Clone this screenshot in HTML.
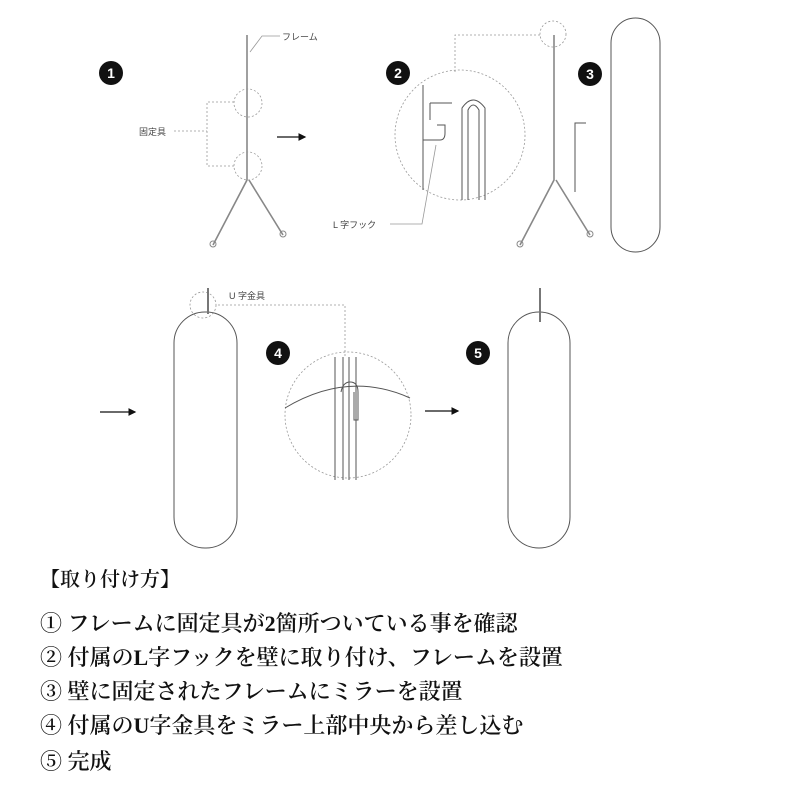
<!DOCTYPE html>
<html><head><meta charset="utf-8"><style>
body{margin:0;width:800px;height:800px;background:#fff;overflow:hidden;position:relative;font-family:"Liberation Serif","Noto Serif CJK JP",serif;}
.t{position:absolute;left:40px;font-size:22px;font-weight:600;color:#111;white-space:nowrap;line-height:26px}
svg{position:absolute;left:0;top:0}
</style></head><body>
<svg width="800" height="560" viewBox="0 0 800 560">
<defs><marker id="ar" markerWidth="6" markerHeight="6" refX="5" refY="3" orient="auto"><path d="M0,0 L6,3 L0,6z" fill="#111"/></marker></defs>
<g font-family="Liberation Sans,Noto Sans CJK JP,sans-serif" font-size="9" fill="#444">
<text x="282" y="40">フレーム</text><text x="139" y="135">固定具</text>
<text x="333" y="228">L 字フック</text><text x="229" y="299">U 字金具</text></g>
<g fill="#111"><circle cx="111" cy="73" r="12"/><circle cx="398" cy="73" r="12"/><circle cx="590" cy="74" r="12"/><circle cx="278" cy="353" r="12"/><circle cx="478" cy="353" r="12"/></g>
<g fill="#fff" font-family="Liberation Sans,sans-serif" font-weight="bold" font-size="14" text-anchor="middle">
<text x="111" y="78">1</text><text x="398" y="78">2</text><text x="590" y="79">3</text><text x="278" y="358">4</text><text x="478" y="358">5</text></g>
<g stroke="#111" stroke-width="1.3" fill="none">
<line x1="277" y1="137" x2="305" y2="137" marker-end="url(#ar)"/>
<line x1="100" y1="412" x2="135" y2="412" marker-end="url(#ar)"/>
<line x1="425" y1="411" x2="458" y2="411" marker-end="url(#ar)"/></g>
<g stroke="#888" stroke-width="1.6" fill="none">
<path d="M247 35V180L213 245M249 180L283 235"/>
<path d="M554 35V180L520 245M556 180L590 235"/></g>
<g stroke="#888" stroke-width="1" fill="none">
<circle cx="213" cy="244" r="3"/><circle cx="283" cy="234" r="3"/>
<circle cx="520" cy="244" r="3"/><circle cx="590" cy="234" r="3"/></g>
<g stroke="#999" stroke-width="0.8" fill="none" stroke-dasharray="2,2">
<circle cx="248" cy="103" r="14"/><circle cx="248" cy="166" r="14"/>
<path d="M234 102H207V166H234M174 131H207"/>
<circle cx="460" cy="135" r="65"/><circle cx="553" cy="34" r="13"/>
<path d="M455 72V35H540"/>
<circle cx="203" cy="305" r="13"/><path d="M218 305H345V357"/>
<circle cx="348" cy="415" r="63"/></g>
<g stroke="#999" stroke-width="0.8" fill="none">
<path d="M250 52L262 36H280"/><path d="M390 224H422L436 145"/></g>
<g stroke="#555" stroke-width="1" fill="none">
<path d="M423 85V190"/><path d="M423 140H440Q445 140 445 133V125H437"/>
<path d="M430 103H452M430 103V120"/>
<path d="M462 200V108Q473 92 485 108V200M468 200V110Q473 100 479 110V200"/>
<path d="M575 192V123H586"/>
<rect x="611" y="18" width="49" height="234" rx="25"/>
<rect x="174" y="312" width="63" height="236" rx="31"/>
<rect x="508" y="312" width="62" height="236" rx="31"/>
<path d="M285 408Q348 370 410 398"/>
<path d="M335 357V480M343 357V480M349 357V480M356 357V480"/>
<path d="M341 392Q343 382 350 382Q358 382 358 392V420H354V392"/></g>
<g stroke="#777" stroke-width="2" fill="none"><path d="M208 288V314"/><path d="M540 288V322"/></g>
</svg>
<div class="t" style="top:567px;font-size:20px">【取り付け方】</div>
<div class="t" style="top:611px">① フレームに固定具が2箇所ついている事を確認</div>
<div class="t" style="top:645px">② 付属のL字フックを壁に取り付け、フレームを設置</div>
<div class="t" style="top:679px">③ 壁に固定されたフレームにミラーを設置</div>
<div class="t" style="top:713px">④ 付属のU字金具をミラー上部中央から差し込む</div>
<div class="t" style="top:749px">⑤ 完成</div>
</body></html>
